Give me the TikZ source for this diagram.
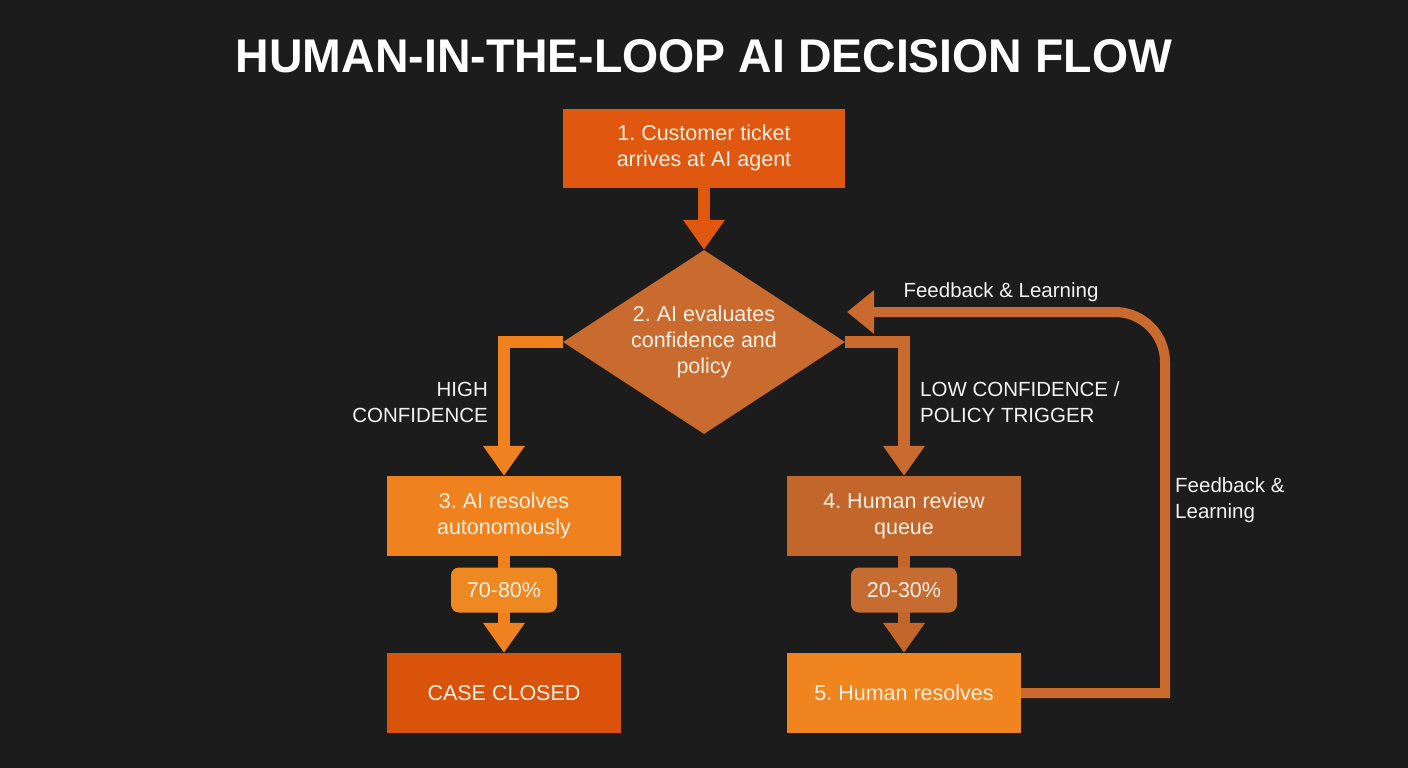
\documentclass[tikz,border=0pt]{standalone}
\usepackage{fontspec}
\setmainfont{Liberation Sans}
\usetikzlibrary{arrows.meta,shapes.geometric}
\definecolor{bg}{HTML}{1C1C1C}
\definecolor{cOne}{HTML}{E0580F}
\definecolor{cDia}{HTML}{C96A2E}
\definecolor{cThree}{HTML}{EF821F}
\definecolor{cBadgeA}{HTML}{EE8820}
\definecolor{cClosed}{HTML}{D9530B}
\definecolor{cFour}{HTML}{C3662C}
\definecolor{cBadgeB}{HTML}{C66C31}
\definecolor{cFive}{HTML}{F08520}
\definecolor{boxtext}{HTML}{F8EEE4}
\definecolor{labtext}{HTML}{F2F2F2}
\frenchspacing
\begin{document}
\begin{tikzpicture}[x=1pt,y=-1pt,
  box/.style={rectangle, inner sep=0pt, minimum width=234pt, minimum height=80pt, align=center,
    text=boxtext, font=\fontsize{21.5}{26}\selectfont},
  badge/.style={rectangle, rounded corners=8pt, inner sep=0pt, minimum width=106pt, minimum height=45pt,
    text=boxtext, font=\fontsize{21.5}{26}\selectfont},
  lab/.style={text=labtext, font=\fontsize{20.5}{26}\selectfont, inner sep=0pt},
  flow/.style={line width=12pt, -{Triangle[width=40pt,length=30pt]}},
  fback/.style={line width=10pt, color=cDia, -{Triangle[width=42pt,length=27pt]}}
]
\useasboundingbox (0,0) rectangle (1408,768);
\fill[bg] (0,0) rectangle (1408,768);

\node[text=white, inner sep=0pt] (title) at (704,56)
  {\resizebox{936pt}{33pt}{\bfseries HUMAN-IN-THE-LOOP AI DECISION FLOW}};

\node[box, fill=cOne, minimum width=282pt, minimum height=79pt] (b1) at (704,148)
  {1. Customer ticket\\arrives at AI agent};
\node[diamond, fill=cDia, inner sep=0pt, minimum width=282pt, minimum height=184pt, aspect=1.53,
  align=center, text=boxtext, font=\fontsize{21.5}{26}\selectfont] (dia) at (704,342)
  {2. AI evaluates\\confidence and\\policy};
\node[box, fill=cThree] (b3) at (504,516) {3. AI resolves\\autonomously};
\node[box, fill=cClosed] (cc) at (504,693) {CASE CLOSED};
\node[box, fill=cFour] (b4) at (904,516) {4. Human review\\queue};
\node[box, fill=cFive] (b5) at (904,693) {5. Human resolves};

\coordinate (fbtip) at (847,312);
\coordinate (fbA) at (1165,693);
\coordinate (fbB) at (1165,362);
\coordinate (fbC) at (1115,312);

% connectors
\draw[flow, color=cOne] (b1.south) -- (dia.north);
\draw[flow, color=cThree] (dia.west) -| (b3.north);
\draw[flow, color=cDia] (dia.east) -| (b4.north);
\draw[flow, color=cThree] (b3.south) -- (cc.north);
\draw[flow, color=cFour] (b4.south) -- (b5.north);
\draw[fback] (b5.east) -- (fbA) -- (fbB) .. controls (1165,334.4) and (1142.4,312) .. (fbC) -- (fbtip);

% badges
\node[badge, fill=cBadgeA] (pA) at (504,590) {70-80\%};
\node[badge, fill=cBadgeB] (pB) at (904,590) {20-30\%};

% labels
\node[lab, anchor=east, align=right] (lhigh) at (488,402) {HIGH\\CONFIDENCE};
\node[lab, anchor=west, align=left] (llow) at (920,402) {LOW CONFIDENCE /\\POLICY TRIGGER};
\node[lab] (lfb1) at (1001,292) {Feedback \& Learning};
\node[lab, anchor=west, align=left] (lfb2) at (1175,500) {Feedback \&\\Learning};
\end{tikzpicture}
\end{document}
